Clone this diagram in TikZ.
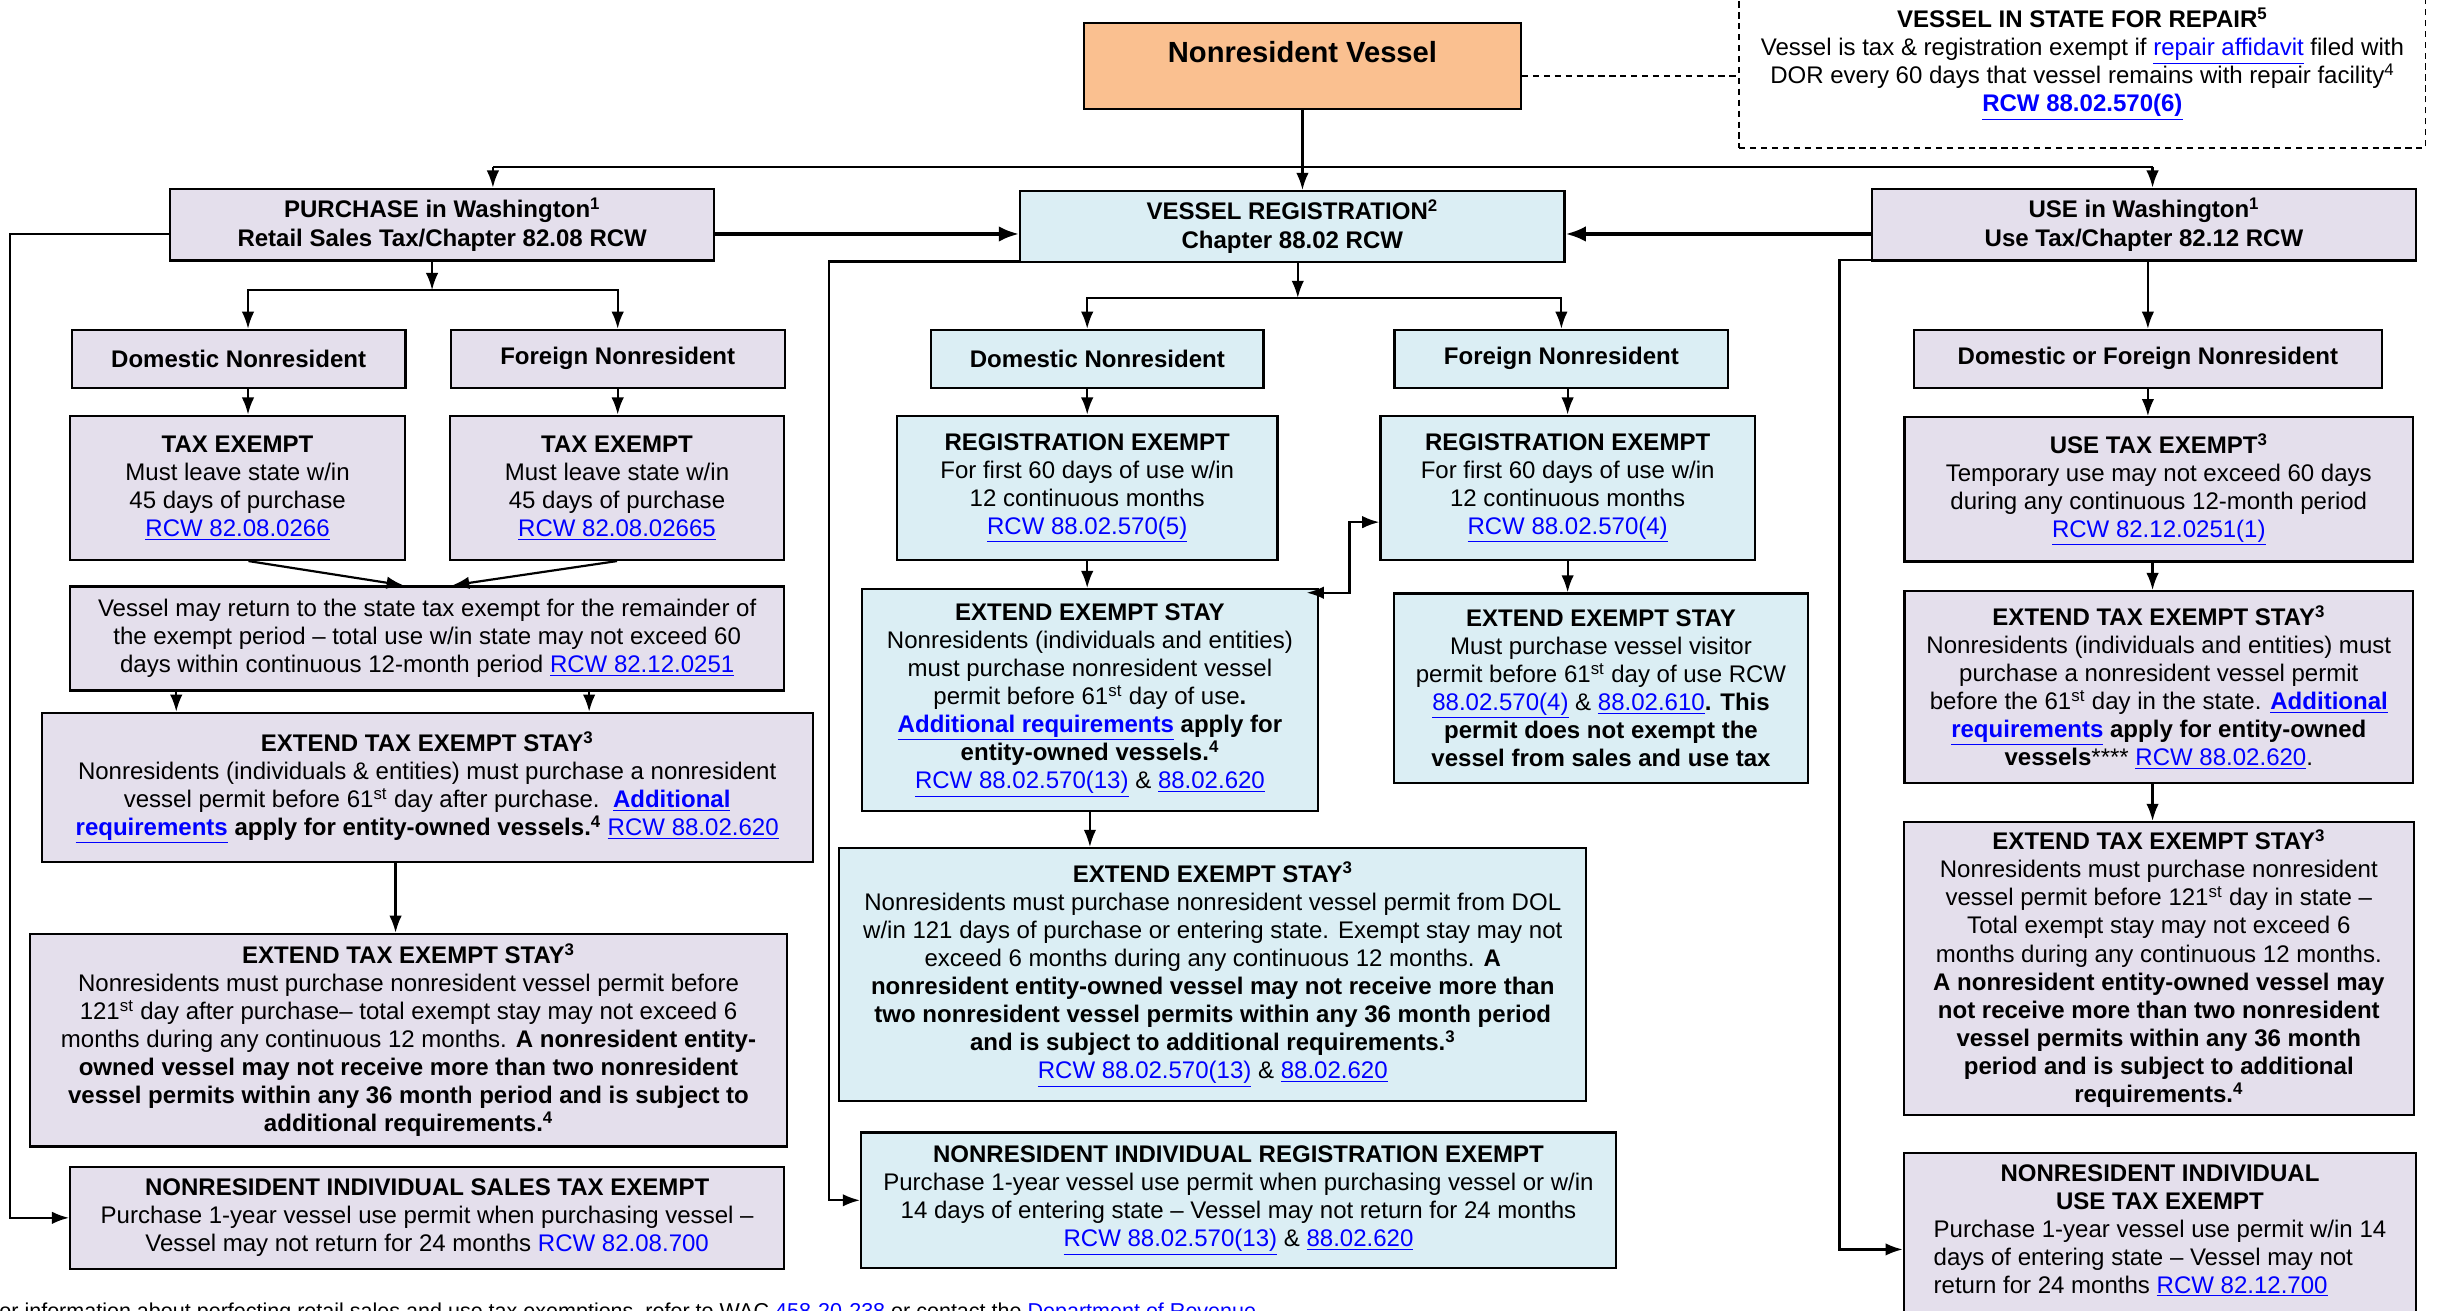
\documentclass[tikz,border=0pt]{standalone}
\usepackage{fontspec}
\setmainfont{Liberation Sans}
\usetikzlibrary{arrows.meta}
\usetikzlibrary{calc}

\definecolor{lavfill}{HTML}{E4DFEC}
\definecolor{blufill}{HTML}{DBEEF4}
\definecolor{orgfill}{HTML}{FAC090}
\definecolor{lnkblue}{HTML}{0000FF}
\newcommand\lnk[1]{\textcolor{lnkblue}{\underline{#1}}}

\tikzset{
  chartbox/.style={draw=black, line width=1.4pt, inner sep=0pt, align=center,
    font=\fontsize{15.4}{18}\selectfont},
  lav/.style={chartbox, fill=lavfill},
  blu/.style={chartbox, fill=blufill},
  wire/.style={line width=1.4pt},
  conn/.style={line width=1.4pt, -{Latex[length=11pt,width=8pt]}},
  dconn/.style={line width=1.4pt, {Latex[length=11pt,width=8pt]}-{Latex[length=11pt,width=8pt]}},
  fat/.style={line width=2.3pt, -{Latex[length=13pt,width=10pt]}},
  repdash/.style={line width=1.1pt, dash pattern=on 4pt off 3pt}
}

\begin{document}
\begin{tikzpicture}[x=1pt, y=-1pt]
    \useasboundingbox[fill=white] (0,0) rectangle (1563,840);

    \node[chartbox, fill=orgfill, minimum width=280pt, minimum height=55.5pt,
        font=\bfseries\fontsize{18.7}{22}\selectfont, text height=13pt, text depth=17.5pt]
        (nv) at (835,42.25) {Nonresident Vessel};
    \node[chartbox, draw, repdash, minimum width=440pt, minimum height=107.4pt]
        (rep) at (1335,41) {\textbf{VESSEL IN STATE FOR REPAIR\textsuperscript{5}}\\
        Vessel is tax \& registration exempt if \lnk{repair affidavit} filed with\\
        DOR every 60 days that vessel remains with repair facility\textsuperscript{4}\\
        \textbf{\lnk{RCW 88.02.570(6)}}};

    \node[lav, minimum width=349pt, minimum height=46pt] (purchase) at (283.5,144)
        {\textbf{PURCHASE in Washington\textsuperscript{1}}\\ \textbf{Retail Sales Tax/Chapter 82.08 RCW}};
    \node[blu, minimum width=349pt, minimum height=45.5pt] (vreg) at (828.5,145.25)
        {\textbf{VESSEL REGISTRATION\textsuperscript{2}}\\ \textbf{Chapter 88.02 RCW}};
    \node[lav, minimum width=349pt, minimum height=46pt] (use) at (1374.5,144)
        {\textbf{USE in Washington\textsuperscript{1}}\\ \textbf{Use Tax/Chapter 82.12 RCW}};

    \node[lav, minimum width=214pt, minimum height=37pt] (domP) at (153,230) {\textbf{Domestic Nonresident}};
    \node[lav, minimum width=214pt, minimum height=37pt] (forP) at (396,230) {\textbf{Foreign Nonresident}};
    \node[blu, minimum width=213pt, minimum height=37pt] (domR) at (703.5,230) {\textbf{Domestic Nonresident}};
    \node[blu, minimum width=214pt, minimum height=37pt] (forR) at (1001,230) {\textbf{Foreign Nonresident}};
    \node[lav, minimum width=300pt, minimum height=37pt] (dfn) at (1377,230) {\textbf{Domestic or Foreign Nonresident}};

    \node[lav, minimum width=214.6pt, minimum height=92.5pt] (teDom) at (152.3,312.75)
        {\textbf{TAX EXEMPT}\\ Must leave state w/in\\ 45 days of purchase\\ \lnk{RCW 82.08.0266}};
    \node[lav, minimum width=214.3pt, minimum height=92.5pt] (teFor) at (395.55,312.75)
        {\textbf{TAX EXEMPT}\\ Must leave state w/in\\ 45 days of purchase\\ \lnk{RCW 82.08.02665}};
    \node[blu, minimum width=244pt, minimum height=92.5pt] (reDom) at (697,312.75)
        {\textbf{REGISTRATION EXEMPT}\\ For first 60 days of use w/in\\ 12 continuous months\\ \lnk{RCW 88.02.570(5)}};
    \node[blu, minimum width=240pt, minimum height=92.5pt] (reFor) at (1005,312.75)
        {\textbf{REGISTRATION EXEMPT}\\ For first 60 days of use w/in\\ 12 continuous months\\ \lnk{RCW 88.02.570(4)}};
    \node[lav, minimum width=326pt, minimum height=92.5pt] (ute) at (1384,313.75)
        {\textbf{USE TAX EXEMPT\textsuperscript{3}}\\ Temporary use may not exceed 60 days\\
        during any continuous 12-month period\\ \lnk{RCW 82.12.0251(1)}};

    \node[lav, minimum width=457.7pt, minimum height=66.7pt] (ret) at (273.85,409.35)
        {Vessel may return to the state tax exempt for the remainder of\\
        the exempt period -- total use w/in state may not exceed 60\\
        days within continuous 12-month period \lnk{RCW 82.12.0251}};
    \node[lav, minimum width=494.3pt, minimum height=95.8pt] (etesP1) at (273.85,504.9)
        {\textbf{EXTEND TAX EXEMPT STAY\textsuperscript{3}}\\
        Nonresidents (individuals \& entities) must purchase a nonresident\\
        vessel permit before 61\textsuperscript{st} day after purchase.\ \ \textbf{\lnk{Additional}}\\
        \textbf{\lnk{requirements} apply for entity-owned vessels.\textsuperscript{4}} \lnk{RCW 88.02.620}};
    \node[lav, minimum width=485.8pt, minimum height=136.3pt] (etesP2) at (261.9,666.85)
        {\textbf{EXTEND TAX EXEMPT STAY\textsuperscript{3}}\\
        Nonresidents must purchase nonresident vessel permit before\\
        121\textsuperscript{st} day after purchase-- total exempt stay may not exceed 6\\
        months during any continuous 12 months. \textbf{A nonresident entity-}\\
        \textbf{owned vessel may not receive more than two nonresident}\\
        \textbf{vessel permits within any 36 month period and is subject to}\\
        \textbf{additional requirements.\textsuperscript{4}}};
    \node[lav, minimum width=457.7pt, minimum height=65.5pt] (nisteP) at (273.85,780.75)
        {\textbf{NONRESIDENT INDIVIDUAL SALES TAX EXEMPT}\\
        Purchase 1-year vessel use permit when purchasing vessel --\\
        Vessel may not return for 24 months \textcolor{lnkblue}{RCW 82.08.700}};

    \node[blu, minimum width=292.5pt, minimum height=142.3pt] (eesDom) at (698.75,448.85)
        {\textbf{EXTEND EXEMPT STAY}\\ Nonresidents (individuals and entities)\\
        must purchase nonresident vessel\\ permit before 61\textsuperscript{st} day of use\textbf{.}\\
        \textbf{\lnk{Additional requirements} apply for}\\ \textbf{entity-owned vessels.\textsuperscript{4}}\\
        \lnk{RCW 88.02.570(13)} \& \lnk{88.02.620}};
    \node[blu, minimum width=265.2pt, minimum height=121.5pt] (eesFor) at (1026.4,441.25)
        {\textbf{EXTEND EXEMPT STAY}\\ Must purchase vessel visitor\\
        permit before 61\textsuperscript{st} day of use RCW\\
        \lnk{88.02.570(4)} \& \lnk{88.02.610}\textbf{. This}\\
        \textbf{permit does not exempt the}\\ \textbf{vessel from sales and use tax}};
    \node[blu, minimum width=479pt, minimum height=162.1pt] (eesR2) at (777.5,624.75)
        {\textbf{EXTEND EXEMPT STAY\textsuperscript{3}}\\
        Nonresidents must purchase nonresident vessel permit from DOL\\
        w/in 121 days of purchase or entering state. Exempt stay may not\\
        exceed 6 months during any continuous 12 months. \textbf{A}\\
        \textbf{nonresident entity-owned vessel may not receive more than}\\
        \textbf{two nonresident vessel permits within any 36 month period}\\
        \textbf{and is subject to additional requirements.\textsuperscript{3}}\\
        \lnk{RCW 88.02.570(13)} \& \lnk{88.02.620}};
    \node[blu, minimum width=484pt, minimum height=87pt] (nireR) at (794,769.5)
        {\textbf{NONRESIDENT INDIVIDUAL REGISTRATION EXEMPT}\\
        Purchase 1-year vessel use permit when purchasing vessel or w/in\\
        14 days of entering state -- Vessel may not return for 24 months\\
        \lnk{RCW 88.02.570(13)} \& \lnk{88.02.620}};

    \node[lav, minimum width=326pt, minimum height=123pt] (etesU1) at (1384,440.5)
        {\textbf{EXTEND TAX EXEMPT STAY\textsuperscript{3}}\\
        Nonresidents (individuals and entities) must\\
        purchase a nonresident vessel permit\\
        before the 61\textsuperscript{st} day in the state. \textbf{\lnk{Additional}}\\
        \textbf{\lnk{requirements} apply for entity-owned}\\
        \textbf{vessels}**** \lnk{RCW 88.02.620}.};
    \node[lav, minimum width=327pt, minimum height=188pt] (etesU2) at (1384,621)
        {\textbf{EXTEND TAX EXEMPT STAY\textsuperscript{3}}\\
        Nonresidents must purchase nonresident\\
        vessel permit before 121\textsuperscript{st} day in state --\\
        Total exempt stay may not exceed 6\\
        months during any continuous 12 months.\\
        \textbf{A nonresident entity-owned vessel may}\\
        \textbf{not receive more than two nonresident}\\
        \textbf{vessel permits within any 36 month}\\
        \textbf{period and is subject to additional}\\
        \textbf{requirements.\textsuperscript{4}}};
    \node[lav, minimum width=328.5pt, minimum height=103pt] (niute) at (1384.75,790.5)
        {\textbf{NONRESIDENT INDIVIDUAL}\\ \textbf{USE TAX EXEMPT}\\
        \begin{tabular}[t]{@{}l@{}}Purchase 1-year vessel use permit w/in 14\\
        days of entering state -- Vessel may not\\
        return for 24 months \lnk{RCW 82.12.700}\end{tabular}};

    \node[anchor=base west, inner sep=0pt, font=\fontsize{13.8}{16}\selectfont] (foot) at (-9,845)
        {For information about perfecting retail sales and use tax exemptions, refer to WAC
        \textcolor{lnkblue}{458-20-238} or contact the \textcolor{lnkblue}{Department of Revenue}.};

    \coordinate (tl) at (316,107);
    \coordinate (tr) at (1380,107);
    \coordinate (pb) at (277,186);
    \coordinate (rb) at (832,191);
    \coordinate (rl) at (113,0);
    \coordinate (rr) at (377.7,0);
    \coordinate (pl) at (253.6,0);

    \draw[conn] (nv.south) -- (nv.south |- vreg.north);
    \draw[wire] (tl) -- (tr);
    \draw[conn] (tl) -- (tl |- purchase.north);
    \draw[conn] (tr) -- (tr |- use.north);
    \draw[repdash] ([yshift=-6.5pt]nv.east) -- ([yshift=-6.5pt]nv.east -| rep.west);
    \draw[fat] ([yshift=-6pt]purchase.east) -- ([yshift=-6pt]purchase.east -| vreg.west);
    \draw[fat] ([yshift=-6pt]use.west) -- ([yshift=-6pt]use.west -| vreg.east);

    \draw[conn] ([yshift=-6pt]purchase.west) -- ++(-102,0) |- (nisteP.west);
    \draw[conn] ([yshift=1pt]vreg.south west) -- ++(-122,0) |- (nireR.west);
    \draw[conn] ([yshift=1pt]use.south west) -- ++(-20,0) |- ([yshift=-10.5pt]niute.west);

    \draw[conn] (pb |- purchase.south) -- (pb);
    \draw[conn] (pb) -| ([xshift=6pt]domP.north);
    \draw[conn] (pb) -| (forP.north);
    \draw[conn] (rb |- vreg.south) -- (rb);
    \draw[conn] (rb) -| (reDom.north |- domR.north);
    \draw[conn] (rb) -| (forR.north);
    \draw[conn] (use.south -| dfn.north) -- (dfn.north);

    \draw[conn] ([xshift=6pt]domP.south) -- ([xshift=6pt]domP.south |- teDom.north);
    \draw[conn] (forP.south) -- (forP.south |- teFor.north);
    \draw[conn] (domR.south -| reDom.north) -- (reDom.north);
    \draw[conn] (forR.south -| reFor.north) -- (reFor.north);
    \draw[conn] (dfn.south) -- (dfn.south |- ute.north);

    \draw[conn] ([xshift=7pt]teDom.south) -- ([xshift=-15pt]ret.north);
    \draw[conn] (teFor.south) -- ([xshift=16pt]ret.north);
    \draw[conn] (ret.south -| rl) -- (etesP1.north -| rl);
    \draw[conn] (ret.south -| rr) -- (etesP1.north -| rr);
    \draw[conn] (etesP1.south -| pl) -- (etesP2.north -| pl);

    \draw[conn] (reDom.south) -- (reDom.south |- eesDom.north);
    \draw[conn] (reFor.south) -- (reFor.south |- eesFor.north);
    \draw[dconn] ([xshift=-8pt,yshift=-3pt]eesDom.north east) -- ++(27.5,0) |- ([yshift=-22pt]reFor.west);
    \draw[conn] (eesDom.south) -- (eesDom.south |- eesR2.north);

    \draw[conn] (ute.south -| tr) -- (etesU1.north -| tr);
    \draw[conn] (etesU1.south -| tr) -- (etesU2.north -| tr);
\end{tikzpicture}
\end{document}
